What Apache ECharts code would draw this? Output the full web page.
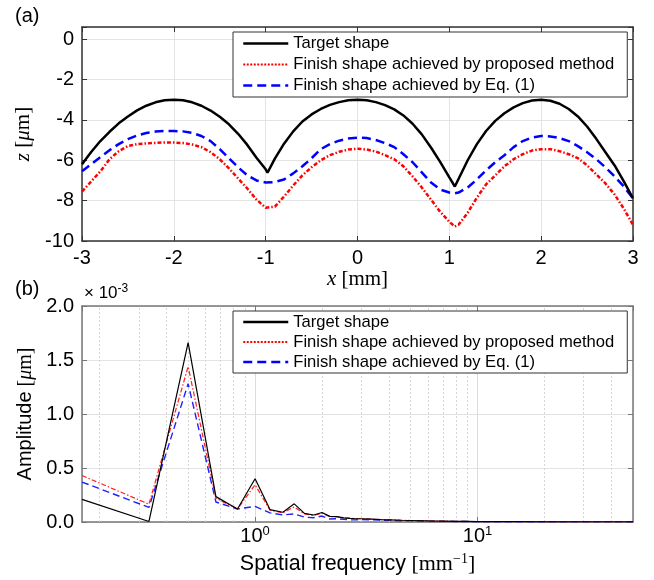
<!DOCTYPE html>
<html>
<head>
<meta charset="utf-8">
<script src="https://cdn.jsdelivr.net/npm/echarts@6/dist/echarts.min.js"></script>
<style>
  html, body { margin: 0; padding: 0; background: #fff; }
  #chart { width: 654px; height: 580px; }
</style>
</head>
<body>
<div id="chart"></div>
<script>
// (a) surface profiles: x in mm, z in um
const xPos = [-3.0, -2.9, -2.8, -2.7, -2.6, -2.5, -2.4, -2.3, -2.2, -2.1, -2.0, -1.9, -1.8, -1.7, -1.6, -1.5, -1.4, -1.3, -1.2, -1.1, -1.0, -0.98,
  -0.9, -0.8, -0.7, -0.6, -0.5, -0.4, -0.3, -0.2, -0.1, 0.0, 0.1, 0.2, 0.3, 0.4, 0.5, 0.6, 0.7, 0.8, 0.9, 1.0, 1.06,
  1.1, 1.2, 1.3, 1.4, 1.5, 1.6, 1.7, 1.8, 1.9, 2.0, 2.1, 2.2, 2.3, 2.4, 2.5, 2.6, 2.7, 2.8, 2.9, 3.0];
const zTarget = [-6.20, -5.59, -5.05, -4.59, -4.17, -3.83, -3.53, -3.30, -3.13, -3.03, -3.00, -3.03, -3.13, -3.30, -3.54, -3.85, -4.22, -4.69, -5.24, -5.88, -6.45, -6.62,
  -5.92, -5.18, -4.57, -4.08, -3.73, -3.46, -3.26, -3.12, -3.03, -3.00, -3.03, -3.12, -3.27, -3.48, -3.78, -4.19, -4.72, -5.37, -6.08, -6.85, -7.30,
  -6.93, -6.00, -5.20, -4.55, -4.05, -3.67, -3.38, -3.17, -3.04, -3.00, -3.05, -3.20, -3.46, -3.83, -4.33, -4.94, -5.60, -6.26, -7.05, -7.89];
const zProposed = [-7.55, -7.05, -6.55, -5.95, -5.55, -5.30, -5.20, -5.17, -5.14, -5.12, -5.12, -5.15, -5.22, -5.35, -5.60, -5.95, -6.40, -6.90, -7.40, -7.95, -8.35, -8.42,
  -8.30, -7.80, -7.25, -6.75, -6.35, -6.00, -5.75, -5.58, -5.47, -5.43, -5.47, -5.57, -5.75, -5.95, -6.30, -6.80, -7.35, -7.95, -8.55, -9.05, -9.28,
  -9.20, -8.60, -7.85, -7.20, -6.75, -6.30, -5.95, -5.70, -5.52, -5.45, -5.45, -5.55, -5.70, -5.90, -6.25, -6.70, -7.15, -7.70, -8.40, -9.20];
const zEq1 = [-6.55, -6.20, -5.85, -5.50, -5.20, -4.95, -4.77, -4.65, -4.58, -4.55, -4.55, -4.57, -4.65, -4.80, -5.05, -5.45, -5.90, -6.35, -6.75, -7.00, -7.10, -7.11,
  -7.08, -6.95, -6.65, -6.30, -5.90, -5.45, -5.20, -5.03, -4.92, -4.88, -4.90, -5.00, -5.15, -5.35, -5.70, -6.10, -6.60, -7.10, -7.45, -7.60, -7.64,
  -7.60, -7.35, -6.95, -6.50, -6.10, -5.75, -5.35, -5.05, -4.88, -4.80, -4.82, -4.90, -5.05, -5.30, -5.60, -5.95, -6.35, -6.80, -7.30, -7.89];

// (b) amplitude spectra: spatial frequency in mm^-1, amplitude in 1e-3 um
const freq = [0.1667, 0.3333, 0.5, 0.6667, 0.8333, 1.0, 1.1667, 1.3333, 1.5, 1.6667, 1.8333, 2.0, 2.1667, 2.3333, 2.5, 2.6667, 2.8333, 3.0,
  3.3333, 3.6667, 4.0, 4.5, 5.0, 6.0, 7.0, 8.0, 9.0, 10.0, 15.0, 20.0, 30.0, 40.0, 50.0];
const ampTarget = [0.21, 0.005, 1.66, 0.235, 0.12, 0.40, 0.115, 0.09, 0.168, 0.08, 0.065, 0.088, 0.052, 0.05, 0.038, 0.033, 0.03, 0.03,
  0.026, 0.022, 0.02, 0.016, 0.014, 0.01, 0.008, 0.006, 0.005, 0.004, 0.003, 0.002, 0.002, 0.001, 0.001];
const ampProposed = [0.43, 0.165, 1.44, 0.22, 0.12, 0.345, 0.11, 0.085, 0.14, 0.075, 0.06, 0.08, 0.05, 0.048, 0.04, 0.035, 0.03, 0.03,
  0.027, 0.023, 0.02, 0.017, 0.014, 0.011, 0.008, 0.006, 0.005, 0.004, 0.003, 0.002, 0.002, 0.001, 0.001];
const ampEq1 = [0.37, 0.135, 1.28, 0.185, 0.12, 0.145, 0.085, 0.065, 0.075, 0.045, 0.04, 0.055, 0.028, 0.03, 0.025, 0.02, 0.02, 0.022,
  0.02, 0.017, 0.015, 0.012, 0.01, 0.008, 0.006, 0.005, 0.004, 0.003, 0.002, 0.002, 0.001, 0.001, 0.001];

const minorFreqs = [0.2, 0.3, 0.4, 0.5, 0.6, 0.7, 0.8, 0.9, 2, 3, 4, 5, 6, 7, 8, 9, 20, 30, 40];

const names = ['Target shape', 'Finish shape achieved by proposed method', 'Finish shape achieved by Eq. (1)'];

const SANS = 'Liberation Sans';
const SERIF = 'Liberation Serif';
const AX_TOP = '#333333';
const AX_BOT = '#777777';

const zip = (xs, ys) => xs.map((x, i) => [x, ys[i]]);

const chart = echarts.init(document.getElementById('chart'));

const legendItems = [
  { name: names[0], itemStyle: { opacity: 0 }, lineStyle: { color: '#000', width: 2.5, type: 'solid' } },
  { name: names[1], itemStyle: { opacity: 0 }, lineStyle: { color: '#ff0000', width: 2, type: [2, 1.5] } },
  { name: names[2], itemStyle: { opacity: 0 }, lineStyle: { color: '#0000ff', width: 2.5, type: [9, 5] } }
];

const legendBase = {
  orient: 'vertical',
  left: 233,
  z: 20,
  itemWidth: 45,
  itemHeight: 17,
  backgroundColor: '#fff',
  borderColor: '#333',
  borderWidth: 1,
  borderRadius: 0,
  textStyle: { fontFamily: SANS, fontSize: 16.6, color: '#000', lineHeight: 17 },
  selectedMode: false,
  data: legendItems
};

// mirrored box axes (MATLAB "box on")
const boxAxis = (extra) => Object.assign({
  axisLine: { onZero: false, lineStyle: { width: 1.5 } },
  axisTick: { inside: true, length: 5 },
  axisLabel: { show: false },
  splitLine: { show: false }
}, extra);

const option = {
  animation: false,
  backgroundColor: '#fff',
  grid: [
    { left: 82, right: 21, top: 27, height: 214, show: false },
    { left: 82, right: 21, top: 306, height: 216, show: false }
  ],
  legend: [
    Object.assign({}, legendBase, { top: 32, itemGap: 4, padding: [3, 13, 3, 9] }),
    Object.assign({}, legendBase, { top: 311, itemGap: 3, padding: [2.5, 13, 2.5, 9] })
  ],
  graphic: [
    { type: 'text', left: 15, top: 6, style: { text: '(a)', font: '20px ' + SANS, fill: '#000' } },
    { type: 'text', left: 15, top: 279, style: { text: '(b)', font: '20px ' + SANS, fill: '#000' } },
    {
      type: 'text', left: 84, top: 283,
      style: {
        text: '× 10{s|-3}', fontFamily: SANS, fontSize: 17, fill: '#000',
        rich: { s: { fontFamily: SANS, fontSize: 12, padding: [0, 0, 9, 0] } }
      }
    }
  ],
  xAxis: [
    {
      type: 'value', gridIndex: 0, min: -3, max: 3, interval: 1,
      name: '{i|x} [mm]', nameLocation: 'middle', nameGap: 25,
      nameTextStyle: { fontFamily: SERIF, fontSize: 21, color: '#000', rich: { i: { fontFamily: SERIF, fontStyle: 'italic', fontSize: 21 } } },
      axisLine: { onZero: false, lineStyle: { color: AX_TOP, width: 1.5 } },
      axisTick: { inside: true, length: 5, lineStyle: { color: AX_TOP } },
      axisLabel: { fontFamily: SANS, fontSize: 20, color: '#000', margin: 7 },
      splitLine: { show: true, lineStyle: { color: '#e3e3e3', width: 1 } }
    },
    boxAxis({
      type: 'value', gridIndex: 0, position: 'top', min: -3, max: 3, interval: 1,
      axisLine: { onZero: false, lineStyle: { color: AX_TOP, width: 1.5 } },
      axisTick: { inside: true, length: 5, lineStyle: { color: AX_TOP } }
    }),
    {
      type: 'log', logBase: 10, gridIndex: 1, min: 1 / 6, max: 50,
      name: '{s|Spatial frequency} [mm{sup|−1}]', nameLocation: 'middle', nameGap: 30,
      nameTextStyle: {
        fontFamily: SERIF, fontSize: 22, color: '#000',
        rich: { s: { fontFamily: SANS, fontSize: 21.5 }, sup: { fontFamily: SERIF, fontSize: 14, padding: [0, 0, 10, 0] } }
      },
      axisLine: { onZero: false, lineStyle: { color: AX_BOT, width: 1.5 } },
      axisTick: { inside: true, length: 5, lineStyle: { color: AX_BOT } },
      axisLabel: {
        fontFamily: SANS, fontSize: 20, color: '#000', margin: 3, showMinLabel: false, showMaxLabel: false,
        rich: { sup: { fontFamily: SANS, fontSize: 13, padding: [0, 0, 9, 0] } },
        formatter: (v) => {
          const l = Math.log10(v);
          if (Math.abs(l - Math.round(l)) < 1e-6) return '10{sup|' + Math.round(l) + '}';
          return '';
        }
      },
      splitLine: { show: true, lineStyle: { color: '#dcdcdc', width: 1 } }
    },
    boxAxis({
      type: 'log', logBase: 10, gridIndex: 1, position: 'top', min: 1 / 6, max: 50,
      axisLine: { onZero: false, lineStyle: { color: AX_BOT, width: 1.5 } },
      axisTick: { inside: true, length: 5, lineStyle: { color: AX_BOT } }
    })
  ],
  yAxis: [
    {
      type: 'value', gridIndex: 0, min: -10, max: 0.6, interval: 2,
      name: '{i|z} [{i|μ}m]', nameLocation: 'middle', nameGap: 41,
      nameTextStyle: { fontFamily: SERIF, fontSize: 21, color: '#000', rich: { i: { fontFamily: SERIF, fontStyle: 'italic', fontSize: 21 } } },
      axisLine: { onZero: false, lineStyle: { color: AX_TOP, width: 1.5 } },
      axisTick: { inside: true, length: 5, lineStyle: { color: AX_TOP } },
      axisLabel: {
        fontFamily: SANS, fontSize: 20, color: '#000', margin: 8,
        formatter: (v) => (Math.abs(v % 2) < 1e-9 ? String(v) : '')
      },
      splitLine: { show: true, lineStyle: { color: '#e3e3e3', width: 1 } }
    },
    boxAxis({
      type: 'value', gridIndex: 0, position: 'right', min: -10, max: 0.6, interval: 2,
      axisLine: { onZero: false, lineStyle: { color: AX_TOP, width: 1.5 } },
      axisTick: { inside: true, length: 5, lineStyle: { color: AX_TOP } }
    }),
    {
      type: 'value', gridIndex: 1, min: 0, max: 2, interval: 0.5,
      name: '{s|Amplitude} [{i|μ}m]', nameLocation: 'middle', nameGap: 44,
      nameTextStyle: {
        fontFamily: SERIF, fontSize: 20, color: '#000',
        rich: { s: { fontFamily: SANS, fontSize: 20 }, i: { fontFamily: SERIF, fontStyle: 'italic', fontSize: 20 } }
      },
      axisLine: { onZero: false, lineStyle: { color: AX_BOT, width: 1.5 } },
      axisTick: { inside: true, length: 5, lineStyle: { color: AX_BOT } },
      axisLabel: { fontFamily: SANS, fontSize: 20, color: '#000', margin: 8, formatter: (v) => v.toFixed(1) },
      splitLine: { show: true, lineStyle: { color: '#e3e3e3', width: 1 } }
    },
    boxAxis({
      type: 'value', gridIndex: 1, position: 'right', min: 0, max: 2, interval: 0.5,
      axisLine: { onZero: false, lineStyle: { color: AX_BOT, width: 1.5 } },
      axisTick: { inside: true, length: 5, lineStyle: { color: AX_BOT } }
    })
  ],
  series: [
    {
      name: names[0], type: 'line', xAxisIndex: 0, yAxisIndex: 0, symbol: 'none',
      data: zip(xPos, zTarget), itemStyle: { color: '#000' }, lineStyle: { color: '#000', width: 2.5 }, z: 5
    },
    {
      name: names[1], type: 'line', xAxisIndex: 0, yAxisIndex: 0, symbol: 'none',
      data: zip(xPos, zProposed), itemStyle: { color: '#ff0000' }, lineStyle: { color: '#ff0000', width: 2.5, type: [4, 2, 1.5, 2] }, z: 4
    },
    {
      name: names[2], type: 'line', xAxisIndex: 0, yAxisIndex: 0, symbol: 'none',
      data: zip(xPos, zEq1), itemStyle: { color: '#0000ff' }, lineStyle: { color: '#0000ff', width: 2.5, type: [9, 5] }, z: 3
    },
    {
      name: names[0], type: 'line', xAxisIndex: 2, yAxisIndex: 2, symbol: 'none',
      data: zip(freq, ampTarget), itemStyle: { color: '#000' }, lineStyle: { color: '#000', width: 1.2 }, z: 5,
      markLine: {
        silent: true, symbol: ['none', 'none'], label: { show: false }, z: 1,
        lineStyle: { color: '#d6d6d6', width: 1, type: [2, 2] },
        data: minorFreqs.map((f) => ({ xAxis: f }))
      }
    },
    {
      name: names[1], type: 'line', xAxisIndex: 2, yAxisIndex: 2, symbol: 'none',
      data: zip(freq, ampProposed), itemStyle: { color: '#ff2020' }, lineStyle: { color: '#ff2020', width: 1.2, type: [5, 2, 1.5, 2] }, z: 4
    },
    {
      name: names[2], type: 'line', xAxisIndex: 2, yAxisIndex: 2, symbol: 'none',
      data: zip(freq, ampEq1), itemStyle: { color: '#2020ff' }, lineStyle: { color: '#2020ff', width: 1.4, type: [7, 4] }, z: 3
    }
  ]
};

chart.setOption(option);
</script>
</body>
</html>
